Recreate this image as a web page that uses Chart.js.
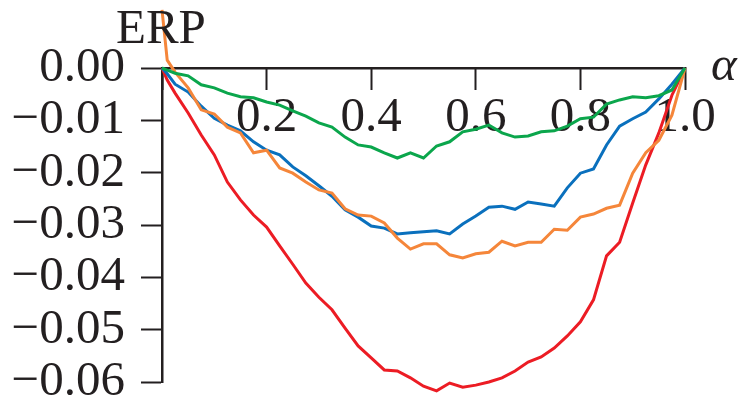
<!DOCTYPE html>
<html>
<head>
<meta charset="utf-8">
<script src="https://cdn.jsdelivr.net/npm/chart.js@4/dist/chart.umd.min.js"></script>
<style>
  body { margin: 0; background: #fff; }
</style>
</head>
<body>
<canvas id="erpChart" width="746" height="398"></canvas>
<script>
// alpha grid shared by all curves
const alpha = [0, 0.01, 0.025, 0.05, 0.075, 0.1, 0.125, 0.15, 0.175, 0.2, 0.225, 0.25, 0.275, 0.3, 0.325, 0.35,
  0.375, 0.4, 0.425, 0.45, 0.475, 0.5, 0.525, 0.55, 0.575, 0.6, 0.625, 0.65, 0.675, 0.7, 0.725,
  0.75, 0.775, 0.8, 0.825, 0.85, 0.875, 0.9, 0.925, 0.95, 0.975, 1.0];

const greenErp = [0, -0.0004, -0.0010, -0.0015, -0.0032, -0.0038, -0.0048, -0.0055, -0.0057, -0.0065, -0.0071, -0.0082,
  -0.0092, -0.0105, -0.0113, -0.0132, -0.0147, -0.0151, -0.0162, -0.0172, -0.0162, -0.0172, -0.0149,
  -0.0141, -0.0122, -0.0117, -0.0109, -0.0124, -0.0132, -0.0130, -0.0122, -0.0120, -0.0111, -0.0097,
  -0.0094, -0.0069, -0.0061, -0.0055, -0.0057, -0.0053, -0.0042, 0];

const blueErp = [0, -0.0011, -0.0031, -0.0046, -0.0073, -0.0096, -0.0109, -0.0120, -0.0141, -0.0157, -0.0166, -0.0189,
  -0.0206, -0.0225, -0.0245, -0.0271, -0.0285, -0.0302, -0.0306, -0.0317, -0.0315, -0.0313, -0.0311,
  -0.0317, -0.0298, -0.0283, -0.0266, -0.0264, -0.0270, -0.0256, -0.0260, -0.0264, -0.0229, -0.0201,
  -0.0193, -0.0147, -0.0111, -0.0097, -0.0084, -0.0059, -0.0031, 0];

const orangeErp = [0.0111, 0.0015, -0.0008, -0.0038, -0.0080, -0.0088, -0.0113, -0.0124, -0.0162, -0.0157, -0.0191,
  -0.0201, -0.0218, -0.0233, -0.0239, -0.0269, -0.0281, -0.0283, -0.0296, -0.0325, -0.0346, -0.0336,
  -0.0336, -0.0357, -0.0363, -0.0355, -0.0352, -0.0331, -0.0340, -0.0333, -0.0333, -0.0308, -0.0310,
  -0.0285, -0.0279, -0.0268, -0.0262, -0.0201, -0.0162, -0.0138, -0.0090, 0];

const redErp = [0, -0.0023, -0.0048, -0.0086, -0.0128, -0.0166, -0.0218, -0.0252, -0.0281, -0.0304, -0.0340, -0.0375,
  -0.0411, -0.0438, -0.0462, -0.0497, -0.0531, -0.0554, -0.0577, -0.0579, -0.0592, -0.0608, -0.0617,
  -0.0602, -0.0610, -0.0606, -0.0600, -0.0592, -0.0579, -0.0562, -0.0552, -0.0535, -0.0512, -0.0485,
  -0.0443, -0.0359, -0.0333, -0.0258, -0.0185, -0.0124, -0.0052, 0];

const xTicks = [0.2, 0.4, 0.6, 0.8, 1.0];
const yTicks = [0, -0.01, -0.02, -0.03, -0.04, -0.05, -0.06];

const inkColor = '#231f20';
const serif = '"Liberation Serif", "DejaVu Serif", serif';
const fontSize = 49;

function toPoints(ys) {
    return alpha.map((a, i) => ({ x: a, y: ys[i] }));
}

function lineSet(label, ys, color) {
    return {
        label: label,
        data: toPoints(ys),
        borderColor: color,
        backgroundColor: color,
        borderWidth: 3,
        pointRadius: 0,
        tension: 0,
        fill: false,
        clip: false
    };
}

// free text: axis names
const axisNames = {
    id: 'axisNames',
    afterDraw(chart) {
        const ctx = chart.ctx;
        ctx.save();
        ctx.fillStyle = inkColor;
        ctx.textBaseline = 'alphabetic';
        ctx.textAlign = 'left';
        ctx.font = fontSize + 'px ' + serif;
        ctx.fillText('ERP', 116, 43);
        ctx.font = 'italic ' + fontSize + 'px ' + serif;
        ctx.fillText('α', 711, 80);
        ctx.restore();
    }
};

const ctx = document.getElementById('erpChart').getContext('2d');
new Chart(ctx, {
    type: 'line',
    data: {
        datasets: [
            lineSet('green', greenErp, '#0ba64c'),
            lineSet('orange', orangeErp, '#f5863a'),
            lineSet('blue', blueErp, '#0a70bd'),
            lineSet('red', redErp, '#ec1c24')
        ]
    },
    options: {
        responsive: false,
        animation: false,
        layout: { padding: { left: 0, right: 61, top: 0, bottom: 16 } },
        plugins: {
            legend: { display: false },
            tooltip: { enabled: false }
        },
        scales: {
            x: {
                type: 'linear',
                position: 'top',
                min: 0,
                max: 1,
                afterBuildTicks(scale) {
                    scale.ticks = [0].concat(xTicks).map(v => ({ value: v }));
                },
                afterFit(scale) {
                    scale.height = 68;
                    scale.paddingLeft = 0;
                    scale.paddingRight = 0;
                },
                border: { display: true, color: inkColor, width: 2.5 },
                grid: {
                    drawOnChartArea: false,
                    drawTicks: true,
                    tickLength: -22,
                    tickColor: inkColor,
                    tickWidth: 2
                },
                ticks: {
                    mirror: true,
                    padding: 21,
                    color: inkColor,
                    font: { family: serif, size: fontSize },
                    maxRotation: 0,
                    autoSkip: false,
                    callback: v => (v === 0 ? '' : v.toFixed(1))
                }
            },
            y: {
                type: 'linear',
                position: 'left',
                min: -0.06,
                max: 0,
                afterBuildTicks(scale) {
                    scale.ticks = yTicks.map(v => ({ value: v }));
                },
                afterFit(scale) {
                    scale.width = 162;
                    scale.paddingTop = 0;
                    scale.paddingBottom = 0;
                },
                border: { display: true, color: inkColor, width: 2.5 },
                grid: {
                    drawOnChartArea: false,
                    tickLength: 21,
                    tickColor: inkColor,
                    tickWidth: 2
                },
                ticks: {
                    padding: 16,
                    color: inkColor,
                    font: { family: serif, size: fontSize },
                    autoSkip: false,
                    callback: v => (Math.abs(v) < 1e-9 ? '0.00' : '\u2212' + Math.abs(v).toFixed(2))
                }
            }
        }
    },
    plugins: [axisNames]
});
</script>
</body>
</html>
